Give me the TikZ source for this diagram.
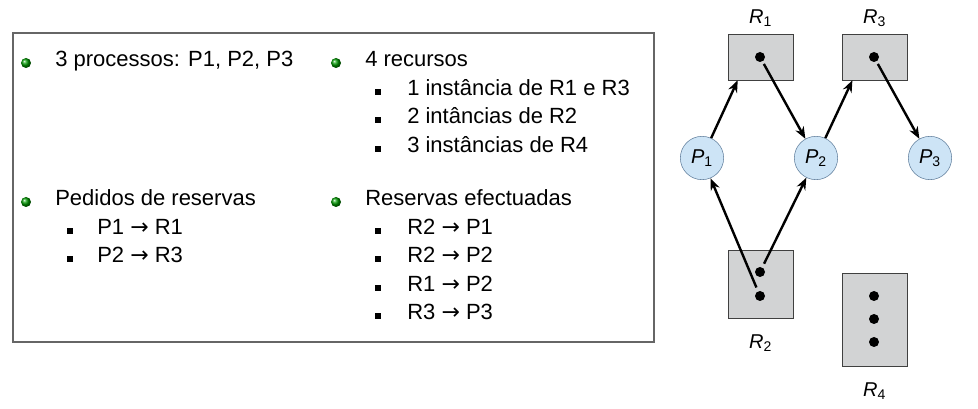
\documentclass[tikz,border=0pt]{standalone}
\usepackage{fontspec}
\setmainfont{Liberation Sans}
\newfontfamily\arrowfont{DejaVu Sans}
\usetikzlibrary{arrows.meta,positioning}
\definecolor{resfill}{RGB}{210,211,212}
\definecolor{procfill}{RGB}{205,228,246}
\definecolor{procline}{RGB}{95,125,155}
\newcommand{\seta}{{\arrowfont →}}

\begin{document}
\begin{tikzpicture}[x=0.75pt,y=-0.75pt,>={Stealth[length=9pt,width=7pt]},
 txt/.style={anchor=base west,inner sep=0pt,font=\fontsize{16.5}{19}\selectfont},
 ball/.style={circle,inner sep=0pt,minimum size=7.5pt,ball color=green!60!black},
 sq/.style={inner sep=0pt,minimum size=4.5pt,fill=black},
 res/.style={draw=black!75,fill=resfill,inner sep=0pt,minimum width=48.75pt},
 proc/.style={circle,draw=procline,fill=procfill,minimum size=32.5pt,inner sep=0pt,font=\fontsize{15}{17}\selectfont},
 inst/.style={circle,fill=black,inner sep=0pt,minimum size=7.5pt},
 lbl/.style={inner sep=1pt,font=\fontsize{15}{17}\selectfont},
 edge/.style={->,line width=1.8pt}]
\useasboundingbox (0,0) rectangle (978,409);
% Caixa com a lista de processos e recursos.
\node[draw=black!60,line width=1.2pt,minimum width=480.75pt,minimum height=231.75pt,inner sep=0pt] (lista) at (333.5,187.5) {};
\node[ball] (b1) at (26,63) {};
\node[txt] (proc) at (55,67) {3 processos: P1, P2, P3};
\node[ball] (b2) at (336,63) {};
\node[txt] (recs) at (365,67) {4 recursos};
\foreach \i/\y/\t in {1/96/1 instância de R1 e R3,2/124/2 intâncias de R2,3/153/3 instâncias de R4}{
\node[sq] at (378,\y-4) {};
\node[txt] (rc\i) at (407,\y) {\t};}
\node[ball] (b3) at (26,202) {};
\node[txt] (ped) at (55,206) {Pedidos de reservas};
\foreach \i/\y/\t in {1/235/P1 \seta\ R1,2/263/P2 \seta\ R3}{
\node[sq] at (70,\y-4) {};
\node[txt] (pd\i) at (97,\y) {\t};}
\node[ball] (b4) at (336,202) {};
\node[txt] (efe) at (365,206) {Reservas efectuadas};
\foreach \i/\y/\t in {1/235/R2 \seta\ P1,2/263/R2 \seta\ P2,3/292/R1 \seta\ P2,4/320/R3 \seta\ P3}{
\node[sq] at (378,\y-4) {};
\node[txt] (ef\i) at (407,\y) {\t};}
% Grafo de alocação de recursos.
\node[res,minimum height=34.5pt] (R1) at (760.5,57) {};
\node[res,minimum height=34.5pt] (R3) at (874.5,57) {};
\node[res,minimum height=51pt] (R2) at (760.5,284) {};
\node[res,minimum height=69.75pt] (R4) at (874.5,319.5) {};
\node[inst] (r1d) at (760,57) {};
\node[inst] (r3d) at (874,57) {};
\node[inst] (r2a) at (760,272) {};
\node[inst] (r2b) at (760,296) {};
\foreach \y [count=\k] in {296,319,342}{\node[inst] (r4d\k) at (874,\y) {};}
\node[lbl,above=4pt of R1] {\textit{R}\textsubscript{1}};
\node[lbl,above=4pt of R3] {\textit{R}\textsubscript{3}};
\node[lbl,below=11pt of R2] {\textit{R}\textsubscript{2}};
\node[lbl,below=11pt of R4] {\textit{R}\textsubscript{4}};
\node[proc] (P1) at (702,158) {\textit{P}\textsubscript{1}};
\node[proc] (P2) at (816,158) {\textit{P}\textsubscript{2}};
\node[proc] (P3) at (930,158) {\textit{P}\textsubscript{3}};
\draw[edge] (P1) -- ([xshift=7.5pt]R1.south west);
\draw[edge,shorten <=2pt] (r1d) -- (P2);
\draw[edge] (P2) -- ([xshift=8pt]R3.south west);
\draw[edge,shorten <=2pt] (r3d) -- (P3);
\draw[edge,shorten <=3pt] (r2b) -- (P1);
\draw[edge,shorten <=3pt] (r2a) -- (P2);
\end{tikzpicture}
\end{document}
